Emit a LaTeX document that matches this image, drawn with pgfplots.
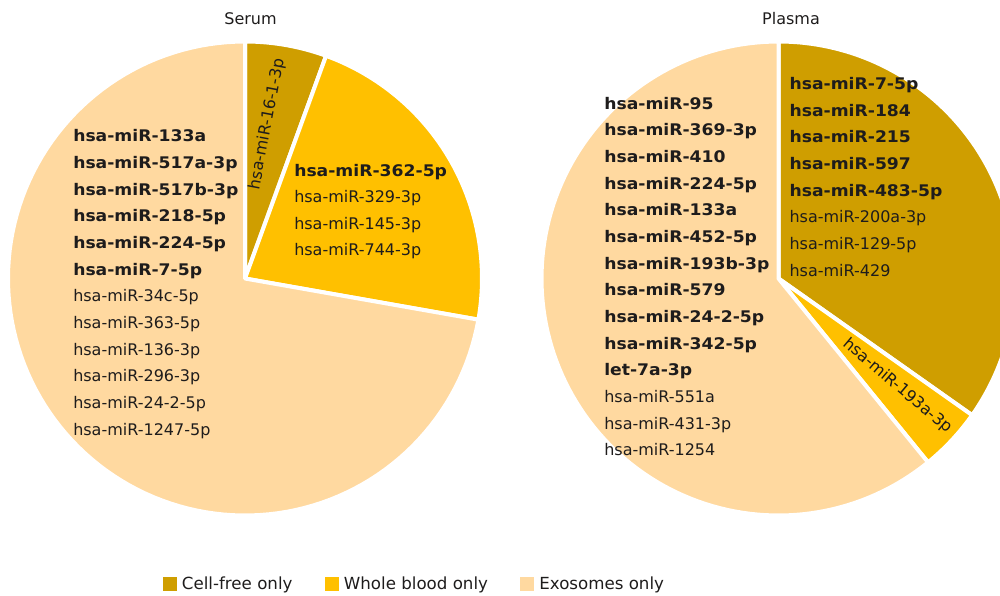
\documentclass[border=0pt]{standalone}
\usepackage{fontspec}
\setmainfont{DejaVu Sans}[BoldFeatures={FakeStretch=1.075}]
\usepackage{pgfplots}
\pgfplotsset{compat=1.18}
\definecolor{cf}{RGB}{207,158,0}
\definecolor{wb}{RGB}{255,192,0}
\definecolor{ex}{RGB}{255,217,160}
\definecolor{txt}{RGB}{30,28,28}
% counts per group (cell-free, whole blood, exosomes)
\def\sCF{1}\def\sWB{4}\def\sEX{13}
\def\pCF{8}\def\pWB{1}\def\pEX{14}
\pgfmathsetmacro{\sA}{360*\sCF/(\sCF+\sWB+\sEX)}
\pgfmathsetmacro{\sB}{360*(\sCF+\sWB)/(\sCF+\sWB+\sEX)}
\pgfmathsetmacro{\pA}{360*\pCF/(\pCF+\pWB+\pEX)}
\pgfmathsetmacro{\pB}{360*(\pCF+\pWB)/(\pCF+\pWB+\pEX)}
\newcommand{\sector}[5]{% cx, cy, from, to, colour
  \addplot[fill=#5, draw=white, line width=3pt, line join=round, domain=#3:#4, samples=120, forget plot]
    ({#1+237*sin(x)},{#2-237*cos(x)}) -- (axis cs:#1,#2) -- cycle;}
\newcommand{\lb}[3]{\node[anchor=base west, inner sep=0pt, text=txt, font=\fontsize{12}{14}\selectfont\bfseries] at (axis cs:#1,#2) {#3};}
\newcommand{\lr}[3]{\node[anchor=base west, inner sep=0pt, text=txt, font=\fontsize{12}{14}\selectfont] at (axis cs:#1,#2) {#3};}
\begin{document}
\begin{tikzpicture}
\begin{axis}[
  at={(0,0)}, anchor=south west,
  scale only axis, width=750pt, height=447pt,
  xmin=0, xmax=1000, ymin=0, ymax=596, y dir=reverse,
  hide axis, clip=true,
  legend image code/.code={\fill[#1] (0pt,-5pt) rectangle (10.5pt,5.5pt);},
  legend style={at={(0.416,0.020)}, anchor=center, draw=none, fill=none,
    legend columns=3, font=\fontsize{12.5}{14}\selectfont, text=txt,
    /tikz/every even column/.append style={column sep=20pt},
    nodes={inner xsep=4pt}},
]
\addlegendimage{fill=cf, draw=none}\addlegendentry{Cell-free only}
\addlegendimage{fill=wb, draw=none}\addlegendentry{Whole blood only}
\addlegendimage{fill=ex, draw=none}\addlegendentry{Exosomes only}
% Serum
\sector{245}{278.5}{0}{\sA}{cf}
\sector{245}{278.5}{\sA}{\sB}{wb}
\sector{245}{278.5}{\sB}{360}{ex}
% Plasma
\sector{778.5}{278.5}{0}{\pA}{cf}
\sector{778.5}{278.5}{\pA}{\pB}{wb}
\sector{778.5}{278.5}{\pB}{360}{ex}
% titles
\node[anchor=base, inner sep=0pt, text=txt, font=\fontsize{12}{14}\selectfont] at (axis cs:250.5,24) {Serum};
\node[anchor=base, inner sep=0pt, text=txt, font=\fontsize{12}{14}\selectfont] at (axis cs:791,24) {Plasma};
% serum labels
\node[rotate=79.3, inner sep=0pt, text=txt, font=\fontsize{12}{14}\selectfont] at (axis cs:267.5,124) {hsa-miR-16-1-3p};
\lb{294}{176}{hsa-miR-362-5p}
\lr{294}{202.5}{hsa-miR-329-3p}
\lr{294}{229}{hsa-miR-145-3p}
\lr{294}{255.5}{hsa-miR-744-3p}
\lb{73}{141.7}{hsa-miR-133a}
\lb{73}{168.4}{hsa-miR-517a-3p}
\lb{73}{195}{hsa-miR-517b-3p}
\lb{73}{221.7}{hsa-miR-218-5p}
\lb{73}{248.4}{hsa-miR-224-5p}
\lb{73}{275}{hsa-miR-7-5p}
\lr{73}{301.7}{hsa-miR-34c-5p}
\lr{73}{328.4}{hsa-miR-363-5p}
\lr{73}{355}{hsa-miR-136-3p}
\lr{73}{381.7}{hsa-miR-296-3p}
\lr{73}{408.4}{hsa-miR-24-2-5p}
\lr{73}{435}{hsa-miR-1247-5p}
% plasma labels
\lb{789.3}{89.3}{hsa-miR-7-5p}
\lb{789.3}{116}{hsa-miR-184}
\lb{789.3}{142.6}{hsa-miR-215}
\lb{789.3}{169.3}{hsa-miR-597}
\lb{789.3}{196}{hsa-miR-483-5p}
\lr{789.3}{222.6}{hsa-miR-200a-3p}
\lr{789.3}{249.3}{hsa-miR-129-5p}
\lr{789.3}{276}{hsa-miR-429}
\node[rotate=-40.2, inner sep=0pt, text=txt, font=\fontsize{12}{14}\selectfont] at (axis cs:897.5,386) {hsa-miR-193a-3p};
\lb{604}{109}{hsa-miR-95}
\lb{604}{135.7}{hsa-miR-369-3p}
\lb{604}{162.3}{hsa-miR-410}
\lb{604}{189}{hsa-miR-224-5p}
\lb{604}{215.7}{hsa-miR-133a}
\lb{604}{242.3}{hsa-miR-452-5p}
\lb{604}{269}{hsa-miR-193b-3p}
\lb{604}{295.7}{hsa-miR-579}
\lb{604}{322.3}{hsa-miR-24-2-5p}
\lb{604}{349}{hsa-miR-342-5p}
\lb{604}{375.7}{let-7a-3p}
\lr{604}{402.3}{hsa-miR-551a}
\lr{604}{429}{hsa-miR-431-3p}
\lr{604}{455.7}{hsa-miR-1254}
\end{axis}
\pgfresetboundingbox
\path (0,0) rectangle (750pt,447pt);
\end{tikzpicture}
\end{document}
